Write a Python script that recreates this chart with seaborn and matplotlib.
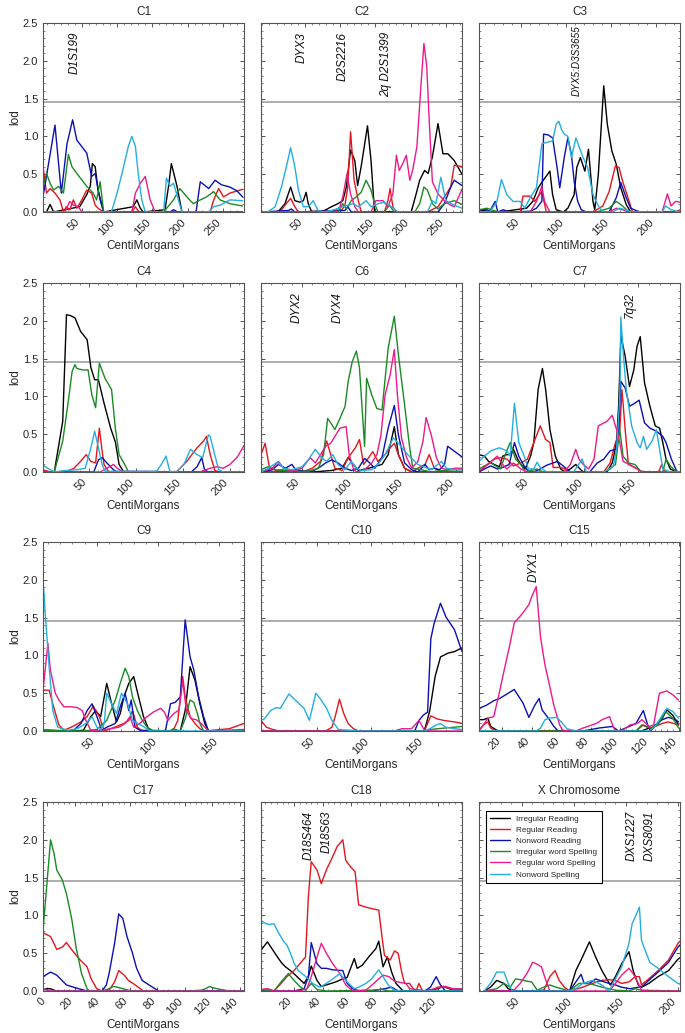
import pandas as pd
import seaborn as sns
import matplotlib.pyplot as plt
from matplotlib.ticker import AutoMinorLocator, MultipleLocator

traits = ['Irregular Reading', 'Regular Reading', 'Nonword Reading',
          'Irregular word Spelling', 'Regular word Spelling', 'Nonword Spelling']
colors = ['#000000', '#e3161d', '#0b10b0', '#1b8a24', '#ec1a8a', '#24aee0']
threshold = 1.45

# ---------------- data: cM position / lod per trait ----------------
C1 = {
    'Irregular Reading': ([-5, 0, 5, 10, 47, 57, 62, 65, 69, 73, 81, 123, 128, 133, 137, 168, 173, 177, 185, 192, 278],
                          [0, 0, 0.1, 0, 0.07, 0.23, 0.34, 0.64, 0.6, 0.29, 0, 0.07, 0.16, 0.05, 0, 0.03, 0.34, 0.64, 0.34, 0, 0]),
    'Regular Reading': ([-5, 0, 5, 12, 19, 24, 28, 33, 38, 43, 50, 57, 64, 69, 73, 81, 121, 126, 131, 232, 237, 244, 251, 260, 278],
                        [0.6, 0.25, 0.31, 0.25, 0.16, 0, 0.07, 0.03, 0.16, 0.05, 0.16, 0.29, 0.25, 0.09, 0.05, 0, 0, 0.07, 0, 0, 0.16, 0.31, 0.2, 0.25, 0.3]),
    'Nonword Reading': ([-5, 12, 21, 29, 37, 43, 57, 64, 69, 76, 81, 175, 180, 186, 212, 218, 230, 239, 248, 260, 270, 278],
                        [0.2, 1.15, 0.25, 0.9, 1.22, 0.95, 0.78, 0.47, 0.51, 0.16, 0, 0, 0.03, 0, 0, 0.4, 0.31, 0.42, 0.36, 0.33, 0.28, 0.2]),
    'Irregular word Spelling': ([-5, 0, 5, 10, 17, 24, 31, 36, 43, 57, 66, 71, 76, 81, 166, 180, 189, 199, 208, 218, 227, 237, 246, 260, 278],
                                [0.34, 0.51, 0.38, 0.29, 0.34, 0.25, 0.76, 0.6, 0.51, 0.34, 0.25, 0.16, 0.4, 0, 0, 0.16, 0.31, 0.2, 0.11, 0.16, 0.2, 0.27, 0.16, 0.11, 0.08]),
    'Regular word Spelling': ([-5, 26, 33, 38, 45, 50, 121, 126, 133, 140, 147, 154, 278],
                              [0, 0, 0.14, 0.09, 0.07, 0, 0, 0.25, 0.38, 0.47, 0.16, 0, 0]),
    'Nonword Spelling': ([-5, 92, 100, 107, 116, 121, 126, 130, 135, 140, 166, 170, 175, 180, 187, 192, 230, 237, 246, 260, 278],
                         [0, 0, 0.25, 0.51, 0.87, 1.0, 0.87, 0.51, 0.16, 0, 0, 0.45, 0.34, 0.38, 0.16, 0, 0, 0.07, 0.09, 0.16, 0.15]),
}

C2 = {
    'Irregular Reading': ([-12, 12, 22, 30, 36, 43, 48, 52, 55, 60, 78, 88, 97, 104, 109, 115, 121, 125, 130, 139, 144, 149, 201, 208, 213, 220, 225, 231, 239, 246, 253, 262, 273],
                          [0, 0, 0.11, 0.33, 0.15, 0.13, 0.15, 0.26, 0.11, 0, 0.02, 0.07, 0.11, 0.15, 0.33, 0.82, 0.68, 0.35, 0.6, 1.14, 0.68, 0, 0, 0.24, 0.42, 0.55, 0.51, 0.73, 1.17, 0.77, 0.77, 0.68, 0.5]),
    'Regular Reading': ([-12, 15, 22, 30, 36, 41, 102, 107, 111, 115, 120, 126, 130, 163, 168, 171, 175, 180, 224, 239, 248, 257, 262, 273],
                        [0, 0, 0.09, 0.18, 0.07, 0, 0.02, 0.09, 0.33, 1.06, 0.42, 0.15, 0, 0, 0.15, 0.31, 0.07, 0, 0, 0.07, 0.2, 0.33, 0.62, 0.6]),
    'Nonword Reading': ([-12, 27, 31, 36, 107, 111, 116, 239, 248, 257, 262, 273],
                        [0, 0.02, 0.04, 0, 0.02, 0.07, 0, 0, 0.11, 0.33, 0.42, 0.35]),
    'Irregular word Spelling': ([-12, 97, 104, 109, 116, 123, 130, 137, 144, 149, 154, 163, 170, 177, 206, 213, 219, 224, 231, 239, 248, 262, 273],
                                [0, 0, 0.11, 0.04, 0.15, 0.2, 0.26, 0.42, 0.29, 0.11, 0, 0, 0.09, 0, 0, 0.11, 0.33, 0.29, 0.11, 0.04, 0.11, 0.15, 0.1]),
    'Regular word Spelling': ([-12, 92, 100, 104, 110, 115, 121, 126, 144, 151, 161, 168, 175, 180, 184, 189, 194, 199, 203, 209, 215, 219, 223, 227, 231, 239, 248, 257, 262, 273],
                              [0, 0, 0.07, 0.2, 0.51, 0.24, 0.07, 0, 0, 0.15, 0.15, 0.07, 0.24, 0.75, 0.55, 0.64, 0.75, 0.42, 0.55, 0.86, 1.7, 2.23, 1.92, 1.12, 0.4, 0.24, 0.15, 0.09, 0.07, 0.3]),
    'Nonword Spelling': ([-12, -2, 8, 17, 24, 30, 36, 41, 48, 55, 62, 69, 78, 88, 118, 126, 137, 144, 154, 163, 173, 182, 224, 231, 236, 243, 250, 262, 273],
                         [0, 0, 0.07, 0.33, 0.6, 0.85, 0.6, 0.29, 0.07, 0.07, 0.15, 0.02, 0, 0.02, 0.11, 0.07, 0.15, 0.07, 0.11, 0.13, 0.07, 0, 0, 0.15, 0.11, 0.46, 0.15, 0.09, 0.05]),
}

C3 = {
    'Irregular Reading': ([3, 12, 26, 56, 63, 69, 74, 82, 85, 89, 97, 102, 109, 112, 116, 121, 125, 130, 132, 136, 142, 146, 151, 156, 161, 167, 172, 227],
                          [0.03, 0.01, 0, 0.05, 0.14, 0.32, 0.41, 0.54, 0.23, 0.03, 0, 0.05, 0.23, 0.59, 0.72, 0.54, 0.83, 0.14, 0.03, 0.5, 1.67, 1.16, 0.81, 0.63, 0.32, 0.1, 0, 0]),
    'Regular Reading': ([3, 49, 52, 60, 65, 73, 78, 130, 141, 148, 155, 159, 163, 169, 174, 222, 227],
                        [0, 0, 0.21, 0.21, 0.14, 0.27, 0, 0, 0.08, 0.27, 0.61, 0.59, 0.41, 0.19, 0, 0, 0.03]),
    'Nonword Reading': ([3, 12, 15, 21, 24, 30, 37, 60, 67, 73, 75, 80, 85, 90, 93, 98, 102, 106, 109, 113, 117, 122, 148, 156, 161, 167, 172, 182, 227],
                        [0.03, 0.03, 0.01, 0.14, 0, 0.03, 0, 0.01, 0.05, 0.14, 1.03, 1.02, 0.98, 0.59, 0.32, 0.72, 0.98, 0.76, 0.41, 0.14, 0.03, 0, 0, 0.19, 0.39, 0.19, 0.05, 0, 0]),
    'Irregular word Spelling': ([3, 12, 19, 26, 134, 148, 156, 163, 170, 227],
                                [0.03, 0.05, 0.02, 0, 0, 0.05, 0.14, 0.08, 0, 0]),
    'Regular word Spelling': ([3, 60, 67, 73, 76, 82, 148, 156, 163, 169, 207, 213, 217, 222, 227],
                              [0, 0, 0.14, 0.34, 0.14, 0, 0, 0.05, 0.03, 0, 0, 0.24, 0.08, 0.14, 0.13]),
    'Nonword Spelling': ([3, 15, 23, 28, 34, 41, 49, 54, 60, 67, 73, 78, 85, 89, 92, 95, 98, 102, 106, 111, 115, 119, 124, 130, 135, 141, 152, 159, 167, 172, 207, 211, 217, 227],
                         [0, 0, 0.14, 0.43, 0.23, 0.14, 0.14, 0.05, 0.19, 0.32, 0.9, 0.92, 0.94, 1.16, 1.2, 1.09, 1.03, 1.0, 0.72, 0.98, 0.85, 0.72, 0.59, 0.23, 0.1, 0, 0, 0.05, 0.03, 0, 0, 0.08, 0.03, 0]),
}

C4 = {
    'Irregular Reading': ([1, 13, 22, 26, 30, 35, 41, 48, 52, 56, 60, 66, 73, 78, 82, 87, 215],
                          [0, 0, 0.67, 2.08, 2.07, 2.04, 1.86, 1.75, 1.38, 1.22, 1.22, 0.91, 0.58, 0.4, 0.1, 0, 0]),
    'Regular Reading': ([1, 9, 27, 34, 41, 47, 52, 57, 61, 64, 66, 71, 143, 154, 165, 172, 175, 179, 184, 189, 215],
                        [0.03, 0, 0.01, 0.05, 0.14, 0.23, 0.14, 0.12, 0.58, 0.27, 0.1, 0, 0, 0.14, 0.32, 0.41, 0.47, 0.23, 0.02, 0, 0]),
    'Nonword Reading': ([1, 55, 60, 64, 69, 76, 80, 159, 165, 170, 173, 177, 215],
                        [0, 0, 0.16, 0.19, 0.12, 0.03, 0, 0, 0.07, 0.19, 0.03, 0, 0]),
    'Irregular word Spelling': ([1, 13, 22, 27, 32, 35, 37, 43, 49, 53, 57, 61, 67, 74, 78, 82, 88, 92, 215],
                                [0, 0, 0.41, 0.85, 1.33, 1.42, 1.37, 1.35, 1.35, 1.02, 0.85, 1.44, 1.24, 1.09, 0.58, 0.23, 0.1, 0, 0]),
    'Regular word Spelling': ([1, 62, 69, 76, 80, 85, 168, 179, 186, 193, 200, 208, 215],
                              [0, 0, 0.05, 0.1, 0.05, 0.01, 0, 0.05, 0.07, 0.05, 0.1, 0.2, 0.35]),
    'Nonword Spelling': ([1, 6, 13, 25, 37, 46, 52, 56, 60, 64, 67, 122, 127, 132, 136, 143, 151, 158, 165, 171, 177, 179, 183, 188, 193, 215],
                         [0.09, 0.05, 0, 0.02, 0.03, 0.05, 0.32, 0.54, 0.32, 0.1, 0.01, 0.01, 0.1, 0.21, 0.01, 0, 0.1, 0.3, 0.23, 0.19, 0.49, 0.47, 0.27, 0.03, 0, 0]),
}

C6 = {
    'Irregular Reading': ([10, 60, 79, 89, 95, 100, 105, 115, 128, 134, 140, 144, 150, 157, 206],
                          [0, 0, 0.02, 0.05, 0.19, 0.1, 0.02, 0.05, 0.1, 0.23, 0.6, 0.23, 0.05, 0, 0]),
    'Regular Reading': ([10, 14, 19, 30, 40, 50, 60, 68, 74, 78, 82, 89, 95, 102, 106, 110, 115, 119, 124, 131, 136, 140, 144, 150, 157, 163, 170, 174, 179, 186, 206],
                        [0.23, 0.38, 0, 0.03, 0.01, 0, 0.05, 0.14, 0.41, 0.23, 0.05, 0.02, 0.19, 0.32, 0.43, 0.1, 0.19, 0.27, 0.14, 0.23, 0.32, 0.38, 0.23, 0.05, 0, 0.05, 0.1, 0.23, 0.05, 0, 0]),
    'Nonword Reading': ([10, 21, 27, 34, 40, 44, 53, 60, 68, 73, 79, 85, 92, 98, 105, 111, 116, 121, 128, 134, 140, 144, 150, 157, 163, 170, 174, 179, 184, 189, 192, 199, 206],
                        [0, 0.03, 0.1, 0.05, 0.1, 0.03, 0.01, 0.01, 0.07, 0.12, 0.16, 0.12, 0.05, 0.02, 0.05, 0.18, 0.12, 0.05, 0.19, 0.58, 0.88, 0.49, 0.12, 0.03, 0, 0.1, 0.03, 0.05, 0.03, 0.1, 0.34, 0.27, 0.2]),
    'Irregular word Spelling': ([10, 17, 24, 40, 56, 66, 71, 75, 79, 82, 87, 92, 95, 99, 103, 106, 111, 113, 118, 123, 128, 134, 140, 144, 150, 155, 158, 166, 176, 186, 199, 206],
                                [0.03, 0.07, 0.03, 0.01, 0.01, 0.05, 0.23, 0.71, 0.63, 0.56, 0.71, 0.87, 1.2, 1.46, 1.6, 1.38, 0.34, 1.24, 1.02, 0.84, 0.82, 1.64, 2.06, 1.55, 0.89, 0.32, 0.05, 0.03, 0, 0.02, 0.01, 0.01]),
    'Regular word Spelling': ([10, 21, 27, 32, 40, 50, 58, 63, 68, 73, 78, 82, 87, 93, 96, 100, 103, 111, 118, 123, 127, 131, 136, 140, 143, 147, 152, 157, 163, 168, 171, 176, 181, 186, 192, 199, 206],
                              [0, 0.05, 0.14, 0.05, 0.01, 0.05, 0.19, 0.12, 0.23, 0.34, 0.38, 0.47, 0.58, 0.6, 0.23, 0.05, 0, 0.03, 0.12, 0.23, 0.49, 1.02, 1.29, 1.62, 1.02, 0.45, 0.19, 0.05, 0.14, 0.41, 0.72, 0.49, 0.19, 0.05, 0.03, 0.05, 0.05]),
    'Nonword Spelling': ([10, 17, 26, 32, 40, 50, 56, 63, 69, 74, 80, 85, 92, 98, 103, 108, 118, 124, 131, 139, 144, 153, 163, 176, 186, 191, 199, 206],
                         [0, 0.05, 0.13, 0.05, 0.03, 0.07, 0.16, 0.3, 0.19, 0.14, 0.23, 0.1, 0.03, 0.14, 0.05, 0.02, 0.03, 0.1, 0.23, 0.45, 0.38, 0.23, 0.1, 0.03, 0.14, 0.05, 0.03, 0.03]),
}

C7 = {
    'Irregular Reading': ([2, 7, 11, 16, 21, 24, 28, 31, 34, 38, 41, 45, 50, 53, 57, 61, 64, 68, 73, 78, 82, 87, 92, 96, 99, 109, 121, 126, 130, 132, 134, 138, 142, 146, 149, 152, 156, 161, 166, 170, 173, 176, 180, 186, 189],
                          [0.23, 0.21, 0.14, 0.1, 0.07, 0.21, 0.23, 0.23, 0.3, 0.17, 0.1, 0.04, 0.21, 0.39, 1.09, 1.37, 1.09, 0.56, 0.21, 0.04, 0, 0.04, 0.1, 0.04, 0, 0, 0, 0.12, 0.39, 0.91, 1.81, 1.53, 1.13, 1.35, 1.66, 1.79, 1.18, 0.87, 0.61, 0.58, 0.39, 0.17, 0.04, 0, 0]),
    'Regular Reading': ([2, 10, 16, 22, 28, 34, 41, 47, 53, 59, 64, 68, 71, 78, 82, 87, 118, 124, 129, 133, 135, 138, 141, 147, 153, 161, 169, 172, 175, 189],
                        [0, 0.1, 0.17, 0.19, 0.17, 0.08, 0.12, 0.17, 0.39, 0.61, 0.43, 0.39, 0.06, 0.06, 0.04, 0, 0, 0.12, 0.39, 0.56, 1.09, 0.56, 0.1, 0.06, 0.01, 0, 0, 0.1, 0, 0]),
    'Nonword Reading': ([2, 7, 13, 19, 24, 30, 35, 39, 44, 48, 53, 59, 65, 75, 82, 87, 105, 112, 118, 124, 129, 132, 134, 138, 142, 147, 151, 156, 161, 167, 173, 176, 181, 186, 189],
                        [0, 0.04, 0.08, 0.04, 0.06, 0.1, 0.39, 0.21, 0.08, 0.01, 0, 0.04, 0.09, 0.14, 0.06, 0, 0, 0.12, 0.17, 0.28, 0.3, 0.56, 1.2, 1.11, 0.87, 0.91, 0.95, 0.65, 0.58, 0.54, 0.47, 0.39, 0.17, 0.01, 0]),
    'Irregular word Spelling': ([2, 7, 13, 22, 27, 31, 36, 41, 45, 56, 61, 118, 124, 129, 133, 136, 141, 147, 153, 173, 176, 180, 186, 189],
                                [0.04, 0.08, 0.12, 0.04, 0.25, 0.39, 0.17, 0.1, 0, 0.04, 0, 0, 0.04, 0.1, 0.56, 0.21, 0.12, 0.1, 0, 0, 0.17, 0.08, 0, 0]),
    'Regular word Spelling': ([2, 10, 19, 24, 28, 34, 41, 47, 81, 87, 92, 95, 99, 104, 109, 113, 121, 126, 130, 133, 136, 142, 149, 153, 189],
                              [0.01, 0.1, 0.21, 0.1, 0.04, 0.12, 0.04, 0, 0, 0.1, 0.3, 0.17, 0.1, 0.04, 0.17, 0.61, 0.67, 0.75, 0.56, 0.39, 0.14, 0.1, 0.04, 0, 0]),
    'Nonword Spelling': ([2, 7, 13, 21, 28, 31, 35, 39, 44, 48, 53, 56, 59, 65, 90, 98, 102, 118, 127, 130, 133, 134, 136, 139, 144, 149, 152, 155, 158, 163, 167, 170, 173, 180, 189],
                         [0.14, 0.21, 0.28, 0.32, 0.28, 0.21, 0.91, 0.39, 0.21, 0.04, 0.04, 0.13, 0.06, 0, 0, 0.17, 0, 0, 0.08, 0.3, 1.0, 2.05, 1.61, 1.09, 0.61, 0.39, 0.32, 0.47, 0.3, 0.41, 0.56, 0.3, 0.04, 0, 0]),
}

C9 = {
    'Irregular Reading': ([6, 31, 39, 45, 49, 53, 58, 62, 66, 69, 72, 76, 80, 84, 88, 92, 96, 118, 122, 126, 130, 134, 138, 141, 170],
                          [0.01, 0, 0.01, 0.19, 0.27, 0.19, 0.63, 0.36, 0.12, 0.23, 0.45, 0.63, 0.72, 0.45, 0.19, 0.03, 0, 0, 0.27, 0.85, 0.67, 0.36, 0.1, 0, 0]),
    'Regular Reading': ([6, 11, 15, 19, 23, 29, 37, 42, 47, 52, 56, 61, 66, 72, 76, 79, 83, 87, 112, 116, 120, 122, 126, 130, 134, 138, 158, 170],
                        [0.54, 0.54, 0.3, 0.08, 0.01, 0.05, 0.12, 0.19, 0.33, 0.19, 0, 0.03, 0.06, 0.1, 0.14, 0.27, 0.05, 0, 0, 0.14, 0.72, 0.45, 0.19, 0.1, 0.03, 0, 0.03, 0.1]),
    'Nonword Reading': ([6, 26, 31, 37, 42, 46, 50, 54, 58, 65, 69, 73, 76, 78, 81, 85, 102, 106, 110, 114, 118, 122, 126, 129, 133, 137, 141, 170],
                        [0.01, 0, 0.01, 0.1, 0.27, 0.36, 0.19, 0.01, 0.05, 0.1, 0.32, 0.5, 0.27, 0.41, 0.05, 0.01, 0, 0.01, 0.36, 0.38, 0.45, 1.47, 0.98, 0.81, 0.45, 0.19, 0, 0]),
    'Irregular word Spelling': ([6, 39, 50, 58, 65, 69, 73, 76, 79, 83, 87, 91, 95, 110, 112, 118, 122, 126, 129, 132, 134, 137, 170],
                                [0.01, 0, 0.02, 0.14, 0.41, 0.63, 0.83, 0.72, 0.45, 0.27, 0.14, 0.05, 0.01, 0, 0.03, 0, 0.16, 0.41, 0.38, 0.23, 0.1, 0, 0]),
    'Regular word Spelling': ([6, 8, 10, 12, 16, 19, 23, 29, 34, 38, 41, 45, 50, 61, 68, 73, 77, 80, 85, 91, 96, 102, 105, 108, 112, 117, 120, 123, 127, 131, 135, 141, 170],
                              [0.54, 0.85, 1.16, 0.81, 0.5, 0.41, 0.32, 0.32, 0.31, 0.27, 0.14, 0.01, 0, 0.03, 0.05, 0.1, 0.19, 0.05, 0.1, 0.19, 0.25, 0.3, 0.25, 0.14, 0.22, 0.28, 0.67, 0.27, 0.16, 0.15, 0.1, 0, 0.02]),
    'Nonword Spelling': ([6, 8, 11, 14, 18, 26, 34, 41, 46, 50, 53, 56, 58, 62, 66, 70, 75, 79, 83, 88, 92, 96, 170],
                         [2.0, 1.51, 0.85, 0.27, 0.05, 0.01, 0.03, 0.1, 0.19, 0.05, 0.01, 0.1, 0.5, 0.36, 0.23, 0.5, 0.36, 0.14, 0.1, 0.06, 0.01, 0, 0]),
}

C10 = {
    'Irregular Reading': ([-2, 150, 155, 160, 165, 172, 178, 185],
                          [0, 0, 0.27, 0.72, 0.98, 1.03, 1.05, 1.1]),
    'Regular Reading': ([-2, 3, 9, 15, 58, 64, 67, 71, 75, 79, 84, 89, 150, 153, 156, 162, 168, 178, 185],
                        [0.14, 0.05, 0.02, 0, 0, 0.05, 0.19, 0.42, 0.23, 0.1, 0.03, 0, 0, 0.1, 0.2, 0.16, 0.14, 0.12, 0.1]),
    'Nonword Reading': ([-2, 141, 145, 149, 153, 156, 159, 165, 170, 178, 185],
                        [0, 0, 0.14, 0.21, 0.25, 1.22, 1.42, 1.69, 1.51, 1.34, 1.05]),
    'Irregular word Spelling': ([-2, 150, 156, 162, 178, 185],
                                [0, 0, 0.02, 0.03, 0.05, 0.06]),
    'Regular word Spelling': ([-2, 122, 129, 138, 145, 150, 156, 185],
                              [0, 0, 0.03, 0.03, 0.14, 0.01, 0, 0]),
    'Nonword Spelling': ([-2, 1, 7, 12, 16, 24, 27, 32, 38, 43, 49, 53, 59, 64, 70, 89, 150, 155, 161, 165, 170, 178, 185],
                         [0.14, 0.16, 0.27, 0.31, 0.3, 0.49, 0.45, 0.38, 0.3, 0.14, 0.5, 0.43, 0.3, 0.14, 0.02, 0, 0, 0.03, 0.08, 0.1, 0.05, 0.03, 0.02]),
}

C15 = {
    'Irregular Reading': ([4, 7, 10, 12, 17, 115, 120, 123, 129, 132, 136, 140],
                          [0.15, 0.15, 0.17, 0.06, 0, 0, 0.04, 0.04, 0.17, 0.28, 0.21, 0.08]),
    'Regular Reading': ([4, 7, 10, 12, 16, 111, 115, 120, 124, 129, 133, 140],
                        [0.01, 0.08, 0.12, 0.04, 0, 0, 0.08, 0.04, 0.06, 0.1, 0.12, 0.08]),
    'Nonword Reading': ([4, 9, 14, 18, 24, 28, 34, 38, 42, 45, 47, 52, 55, 58, 75, 86, 95, 99, 104, 111, 116, 119, 121, 124, 129, 133, 138, 140],
                        [0.3, 0.34, 0.4, 0.43, 0.5, 0.55, 0.37, 0.18, 0.34, 0.43, 0.28, 0.15, 0.06, 0, 0, 0.04, 0.06, 0, 0.04, 0.1, 0.27, 0.08, 0, 0.08, 0.15, 0.18, 0.15, 0.12]),
    'Irregular word Spelling': ([4, 111, 116, 121, 126, 131, 136, 140],
                                [0, 0, 0.08, 0.04, 0.08, 0.26, 0.17, 0.04]),
    'Regular word Spelling': ([4, 7, 10, 14, 17, 21, 25, 28, 33, 38, 40, 43, 45, 46, 49, 52, 55, 59, 61, 66, 70, 75, 84, 88, 93, 95, 97, 102, 107, 112, 115, 120, 123, 127, 132, 136, 140],
                              [0, 0.08, 0.17, 0.19, 0.43, 0.79, 1.14, 1.43, 1.54, 1.67, 1.78, 1.91, 1.45, 1.23, 0.87, 0.61, 0.34, 0.08, 0.01, 0, 0, 0.04, 0.1, 0.15, 0.19, 0.08, 0, 0.01, 0.08, 0.1, 0.15, 0.06, 0.08, 0.5, 0.53, 0.48, 0.41]),
    'Nonword Spelling': ([4, 43, 46, 49, 52, 57, 60, 64, 70, 120, 124, 129, 132, 136, 140],
                         [0, 0, 0.04, 0.15, 0.17, 0.18, 0.12, 0.03, 0, 0, 0.06, 0.21, 0.3, 0.26, 0.17]),
}

C17 = {
    'Irregular Reading': ([-3, 0, 2.5, 5, 7, 143], [0.02, 0.03, 0.03, 0.01, 0, 0]),
    'Regular Reading': ([-3, 2.5, 7, 11, 14, 19, 24, 29, 32, 36, 40, 45, 49, 52, 56, 59, 64, 70, 143],
                        [0.77, 0.72, 0.55, 0.58, 0.64, 0.52, 0.41, 0.32, 0.16, 0.03, 0, 0.01, 0.12, 0.27, 0.21, 0.14, 0.08, 0, 0]),
    'Nonword Reading': ([-3, 2.5, 7, 14, 21, 29, 40, 43, 45, 49, 52, 55, 58, 62, 65, 69, 74, 81, 143],
                        [0.19, 0.25, 0.21, 0.08, 0.04, 0, 0, 0.08, 0.23, 0.63, 1.02, 0.96, 0.72, 0.5, 0.3, 0.14, 0.08, 0, 0]),
    'Irregular word Spelling': ([-3, 2.5, 5, 7, 11, 14, 18, 21, 25, 29, 31, 40, 45, 48, 51, 55, 59, 64, 102, 112, 115, 118, 121, 126, 133, 143],
                                [0.8, 2.0, 1.82, 1.6, 1.47, 1.29, 0.94, 0.58, 0.23, 0.03, 0, 0, 0.03, 0.06, 0.05, 0.03, 0.01, 0, 0, 0.01, 0.03, 0.06, 0.04, 0.02, 0, 0]),
    'Regular word Spelling': ([-3, 0, 3.5, 143], [0.02, 0.01, 0, 0]),
    'Nonword Spelling': ([-3, 143], [0, 0]),
}

C18 = {
    'Irregular Reading': ([-3, 1.5, 6, 11, 14, 17.5, 21, 27, 30, 32, 36, 39, 42.5, 49, 54, 57, 62, 64, 67.5, 72, 77, 79, 82, 85, 88, 91, 96, 111, 120, 124, 131, 137],
                          [0.54, 0.65, 0.52, 0.38, 0.32, 0.27, 0.21, 0.1, 0.19, 0.33, 0.14, 0.06, 0.08, 0.12, 0.16, 0.18, 0.43, 0.3, 0.34, 0.45, 0.56, 0.66, 0.32, 0.45, 0.25, 0.1, 0, 0, 0.03, 0.06, 0.01, 0]),
    'Regular Reading': ([-3, 1.5, 6, 11, 15, 20, 24, 28, 30, 32, 36, 39, 42.5, 47, 50, 54, 56, 59.5, 62.5, 65, 70, 74, 79, 81, 83, 87, 90, 92.5, 95, 97, 100.5, 103, 105, 107, 109.5, 115, 120, 124, 131, 137],
                        [0.01, 0.03, 0, 0.1, 0.19, 0.27, 0.36, 0.45, 1.25, 1.71, 1.6, 1.42, 1.6, 1.78, 1.91, 2.0, 1.73, 1.64, 1.58, 1.14, 1.11, 1.09, 1.07, 0.76, 0.47, 0.41, 0.53, 0.5, 0.25, 0.1, 0.1, 0.03, 0, 0.1, 0, 0, 0.05, 0.06, 0.02, 0.02]),
    'Nonword Reading': ([-3, 20, 27, 30, 32, 36, 39, 42.5, 47, 54, 57, 61, 65, 74, 83, 88, 92.5, 111, 115, 119, 122, 125.5, 137],
                        [0, 0, 0.03, 0.19, 0.64, 0.36, 0.3, 0.3, 0.28, 0.27, 0.1, 0.03, 0, 0, 0.03, 0.05, 0, 0, 0.05, 0.19, 0.08, 0, 0]),
    'Irregular word Spelling': ([-3, 6, 11, 16, 20, 24, 28, 32, 36, 42.5, 74, 81, 86, 137],
                                [0, 0, 0.12, 0.23, 0.14, 0.06, 0.01, 0.1, 0.02, 0, 0.01, 0.02, 0, 0]),
    'Regular word Spelling': ([-3, 1.5, 6, 24, 29, 32, 36, 39, 42.5, 47, 52, 56, 61, 70, 75.5, 79, 82, 86, 90, 95, 98, 100.5, 105, 111, 120, 125.5, 131, 137],
                              [0.02, 0.03, 0, 0, 0.03, 0.19, 0.45, 0.63, 0.5, 0.36, 0.23, 0.08, 0, 0.01, 0.1, 0.16, 0.21, 0.19, 0.13, 0.11, 0.1, 0.03, 0.02, 0, 0.04, 0.06, 0.03, 0.03]),
    'Nonword Spelling': ([-3, 0.4, 3, 6, 9.5, 13, 14, 15, 17.5, 20, 23, 27, 30, 33, 38, 42.5, 47, 52, 55, 58, 62, 65, 70, 74, 79, 82, 86, 90, 95, 137],
                         [0.93, 0.89, 0.88, 0.89, 0.76, 0.65, 0.63, 0.61, 0.5, 0.37, 0.27, 0.21, 0.16, 0.1, 0.05, 0.1, 0.16, 0.23, 0.16, 0.1, 0.03, 0.05, 0.1, 0.16, 0.28, 0.19, 0.07, 0.01, 0, 0]),
}

CX = {
    'Irregular Reading': ([14, 20, 26, 33, 37, 45, 64, 71, 77, 96, 102, 107, 110, 115, 121, 127, 135, 140, 146, 153, 157, 162, 165, 172, 181, 191, 200, 202],
                          [0, 0.05, 0.14, 0.1, 0.03, 0, 0, 0.01, 0, 0, 0.27, 0.41, 0.5, 0.65, 0.45, 0.27, 0.08, 0.19, 0.36, 0.52, 0.27, 0.08, 0.05, 0.1, 0.19, 0.27, 0.42, 0.44]),
    'Regular Reading': ([14, 71, 77, 82, 86, 91, 96, 108.5, 118, 127, 134, 140, 146, 153, 159, 163, 165, 172, 181, 191, 200, 202],
                        [0, 0, 0.19, 0.27, 0.14, 0.05, 0, 0.05, 0.1, 0.14, 0.15, 0.14, 0.1, 0.12, 0.19, 0.19, 0.08, 0.16, 0.27, 0.41, 0.63, 0.66]),
    'Nonword Reading': ([14, 96, 101, 107, 110, 115, 121, 127, 134, 140, 146, 154, 162, 165, 172, 181, 191, 200, 202],
                        [0, 0, 0.1, 0.22, 0.1, 0.1, 0.16, 0.13, 0.1, 0.08, 0.05, 0.03, 0.05, 0.05, 0.14, 0.25, 0.38, 0.58, 0.61]),
    'Irregular word Spelling': ([14, 26, 33, 39, 44, 48.5, 55, 59.5, 65, 71, 77, 83, 91, 96, 105, 115, 127, 140, 153, 159, 165, 202],
                                [0, 0.03, 0.1, 0.05, 0.16, 0.15, 0.13, 0.12, 0.01, 0.05, 0.08, 0.05, 0.02, 0, 0.1, 0.1, 0.05, 0.01, 0, 0.03, 0.01, 0]),
    'Regular word Spelling': ([14, 42, 48.5, 55, 60.5, 64, 69, 72, 77, 134, 140, 146, 153, 157, 162, 165, 172, 202],
                              [0, 0, 0.1, 0.23, 0.38, 0.36, 0.32, 0.19, 0, 0, 0.1, 0.21, 0.3, 0.23, 0.1, 0.01, 0, 0]),
    'Nonword Spelling': ([14, 20, 26, 33, 37, 41, 96, 102, 108.5, 118, 127, 134, 140, 146, 153, 156, 159, 163, 165, 168.5, 173, 181, 191, 200, 202],
                         [0, 0.1, 0.25, 0.25, 0.1, 0, 0, 0.03, 0.1, 0.14, 0.08, 0, 0.16, 0.32, 0.63, 0.89, 0.98, 1.11, 0.67, 0.54, 0.38, 0.3, 0.19, 0.1, 0.09]),
}

# title, data, x-limits, x-ticks, marker labels (name, cM)
panels = [
    ('C1', C1, (-5, 280), [50, 100, 150, 200, 250], [('D1S199', 40)]),
    ('C2', C2, (-12, 273), [50, 100, 150, 200, 250], [('DYX3', 46), ('D2S2216', 104), ('2q D2S1399', 165)]),
    ('C3', C3, (3, 227), [50, 100, 150, 200], [('DYX5:D3S3655', 112)]),
    ('C4', C4, (1, 215), [50, 100, 150, 200], []),
    ('C6', C6, (10, 206), [50, 100, 150, 200], [('DYX2', 45), ('DYX4', 85)]),
    ('C7', C7, (2, 189), [50, 100, 150], [('7q32', 142)]),
    ('C9', C9, (6, 170), [50, 100, 150], []),
    ('C10', C10, (-2, 185), [50, 100, 150], []),
    ('C15', C15, (4, 141), [20, 40, 60, 80, 100, 120, 140], [('DYX1', 41)]),
    ('C17', C17, (-3, 143), [0, 20, 40, 60, 80, 100, 120, 140], []),
    ('C18', C18, (-3, 137), [20, 40, 60, 80, 100, 120], [('D18S464', 30), ('D18S63', 42.5)]),
    ('X Chromosome', CX, (9, 202), [50, 100, 150, 200], [('DXS1227', 156), ('DXS8091', 173)]),
]

sns.set_style('ticks')
plt.rcParams['font.family'] = ['Liberation Sans', 'DejaVu Sans']

W, H = 685, 1033
fig = plt.figure(figsize=(W / 100, H / 100), dpi=100)
col_left = [43, 261, 479]
row_top = [23, 283, 542, 802]
aw, ah = 201, 189

for i, (title, data, xlim, xticks, markers) in enumerate(panels):
    r, c = divmod(i, 3)
    ax = fig.add_axes([col_left[c] / W, (H - row_top[r] - ah) / H, aw / W, ah / H])

    rows = []
    for t in traits:
        xs, ys = data[t]
        for x, y in zip(xs, ys):
            rows.append((t, x, y))
    df = pd.DataFrame(rows, columns=['trait', 'cM', 'lod'])

    is_legend = title == 'X Chromosome'
    sns.lineplot(data=df, x='cM', y='lod', hue='trait', hue_order=traits,
                 palette=colors, estimator=None, sort=False, lw=1.0,
                 legend=is_legend, ax=ax)
    ax.axhline(threshold, color='#a0a0a0', lw=1.2, zorder=0)

    ax.set_xlim(*xlim)
    ax.set_ylim(0, 2.5)
    ax.set_xticks(xticks)
    ax.yaxis.set_major_locator(MultipleLocator(0.5))
    ax.xaxis.set_minor_locator(AutoMinorLocator(5))
    ax.yaxis.set_minor_locator(AutoMinorLocator(5))
    ax.tick_params(which='both', direction='in', top=True, right=True,
                   labelsize=8, color='#555555')
    ax.tick_params(which='major', length=3, width=0.7)
    ax.tick_params(which='minor', length=1.5, width=0.5)
    plt.setp(ax.get_xticklabels(), rotation=45, ha='right')
    for s in ax.spines.values():
        s.set_color('#555555')
        s.set_linewidth(0.8)

    ax.set_title(title, fontsize=8.5, pad=6)
    ax.set_xlabel('CentiMorgans', fontsize=8.5, labelpad=2)
    if c == 0:
        ax.set_ylabel('lod', fontsize=8.5, labelpad=1)
        ax.yaxis.set_major_formatter(plt.FormatStrFormatter('%.1f'))
    else:
        ax.set_ylabel('')
        ax.set_yticklabels([])

    for name, pos in markers:
        small = title == 'C3'
        ax.text(pos, 2.47 if small else 2.38, name, rotation=90, ha='center',
                va='top', fontsize=7.2 if small else 8.5, style='italic',
                color='#111111')

    if is_legend:
        leg = ax.legend(loc='upper left', bbox_to_anchor=(0.015, 0.975),
                        fontsize=5.9, frameon=True, fancybox=False,
                        edgecolor='black', framealpha=1, handlelength=2.4,
                        labelspacing=0.42, borderpad=0.5, title=None)
        leg.get_frame().set_linewidth(0.8)

fig.savefig('out.png', dpi=100)
